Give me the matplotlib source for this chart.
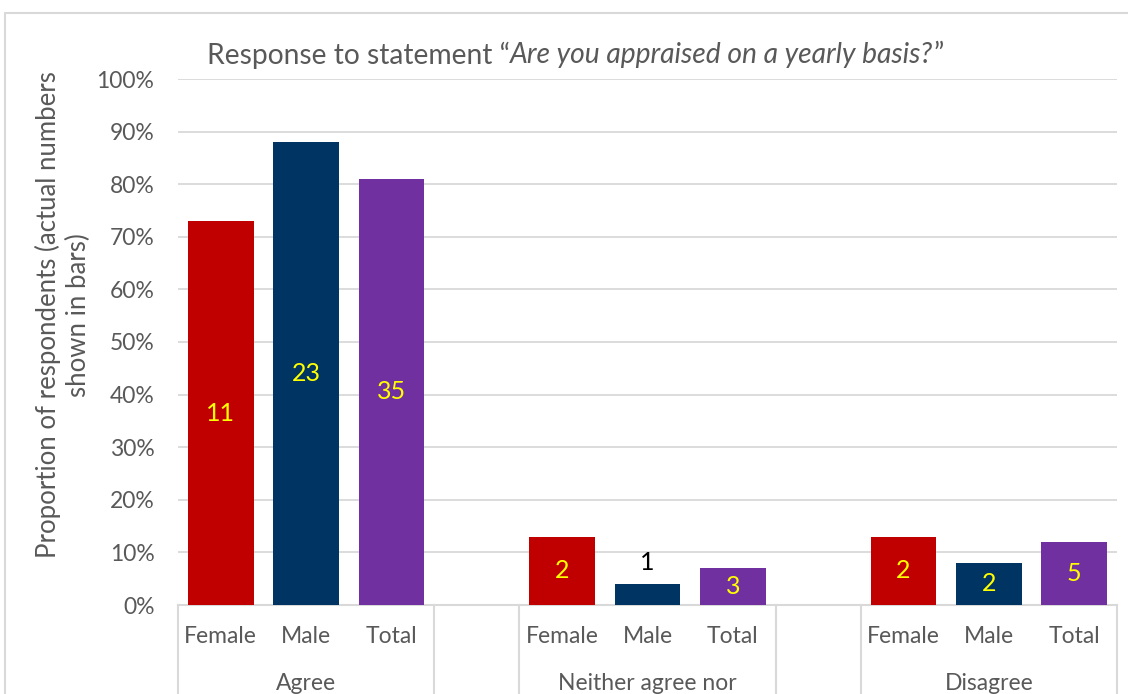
import matplotlib.pyplot as plt
from matplotlib.patches import Rectangle
from matplotlib.transforms import blended_transform_factory

plt.rcParams['font.family'] = ['Lato', 'DejaVu Sans']

# data
groups = ["Agree", "Neither agree nor", "Disagree"]
genders = ["Female", "Male", "Total"]
pct = [[73, 88, 81],
       [13, 4, 7],
       [13, 8, 12]]
counts = [[11, 23, 35],
          [2, 1, 3],
          [2, 2, 5]]
colors = ["#C00000", "#003462", "#7030A0"]

grey = "#595959"
grid = "#D9D9D9"

fig = plt.figure(figsize=(11.28, 6.94), dpi=100)
fig.patches.append(Rectangle((5 / 1128, -0.1), 1.2, (694 - 13) / 694 + 0.1,
                             transform=fig.transFigure, fill=False,
                             edgecolor=grid, linewidth=1.5))
ax = fig.add_axes([178 / 1128, 89 / 694, 939 / 1128, 526 / 694])

slot = 0
xb = blended_transform_factory(ax.transData, ax.transAxes)
for g, grp in enumerate(groups):
    for k, name in enumerate(genders):
        x = slot + k
        h = pct[g][k]
        ax.bar(x, h, 0.77, color=colors[k], zorder=3)
        if h > 6:
            ax.text(x, h / 2, str(counts[g][k]), ha="center", va="center",
                    color="#FFFF00", fontsize=18, zorder=4)
        else:
            ax.text(x, h + 4, str(counts[g][k]), ha="center", va="center",
                    color="black", fontsize=18, zorder=4)
        ax.text(x, -0.06, name, transform=xb, ha="center", va="center",
                color=grey, fontsize=16.5)
    ax.text(slot + 1, -0.15, grp, transform=xb, ha="center", va="center",
            color=grey, fontsize=16.5)
    # separators between groups
    for edge in (slot - 0.5, slot + 2.5):
        ax.plot([edge, edge], [0, -0.2], transform=xb, color=grid,
                linewidth=1.5, clip_on=False)
    slot += 4

ax.set_xlim(-0.5, 10.5)
ax.set_ylim(0, 100)
ax.set_yticks(range(0, 101, 10))
ax.set_yticklabels([f"{v}%" for v in range(0, 101, 10)])
ax.set_xticks([])
ax.tick_params(axis="y", length=0, labelsize=16.5, labelcolor=grey, pad=17)
ax.grid(axis="y", color=grid, linewidth=1.3, zorder=0)
for s in ["left", "right", "top"]:
    ax.spines[s].set_visible(False)
ax.spines["bottom"].set_color(grid)
ax.spines["bottom"].set_linewidth(1.5)

fig.text(63 / 1128, (694 - 315) / 694,
         "Proportion of respondents (actual numbers\nshown in bars)",
         rotation=90, ha="center", va="center", color=grey, fontsize=18.5,
         linespacing=1.2)

# title with italic question
fig.canvas.draw()
r = fig.canvas.get_renderer()
ty = (694 - 55) / 694
t1 = fig.text(207 / 1128, ty, "Response to statement \u201c", ha="left",
              va="center", color=grey, fontsize=20.3)
x1 = t1.get_window_extent(r).x1 / fig.bbox.width
t2 = fig.text(x1, ty, "Are you appraised on a yearly basis?", ha="left",
              va="center", color=grey, fontsize=20.3, style="italic")
x2 = t2.get_window_extent(r).x1 / fig.bbox.width
fig.text(x2, ty, "\u201d", ha="left", va="center", color=grey, fontsize=20.3)

fig.savefig("out.png", dpi=100)
